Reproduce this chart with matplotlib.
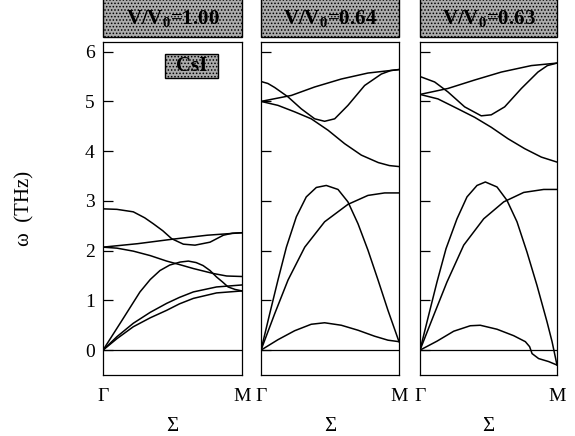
import matplotlib
matplotlib.use("Agg")
import matplotlib.pyplot as plt
from matplotlib.patches import Rectangle

plt.rcParams['font.family'] = 'serif'
plt.rcParams['font.serif'] = ['Liberation Serif', 'DejaVu Serif']
plt.rcParams['mathtext.fontset'] = 'custom'
plt.rcParams['mathtext.rm'] = 'Liberation Serif'
plt.rcParams['mathtext.bf'] = 'Liberation Serif:bold'
plt.rcParams['hatch.linewidth'] = 0.7

# volume ratio in each panel header
headers = [r'V/V$_{\mathbf{0}}$=1.00', r'V/V$_{\mathbf{0}}$=0.64', r'V/V$_{\mathbf{0}}$=0.63']
y_ticks = [0, 1, 2, 3, 4, 5, 6]
x_labels = ['Γ', 'M']

# phonon branches along Sigma, q as fraction of Gamma->M, omega in THz
# V/V0 = 1.00
p1_q_a = [0, 0.1, 0.218, 0.3, 0.362, 0.43, 0.494, 0.578, 0.662, 0.77, 0.866, 0.93, 1.0]
p1_w_a = [2.84, 2.83, 2.78, 2.66, 2.54, 2.40, 2.24, 2.13, 2.11, 2.17, 2.31, 2.35, 2.36]
p1_q_b = [0, 0.25, 0.5, 0.75, 1.0]
p1_w_b = [2.07, 2.14, 2.23, 2.31, 2.36]
p1_q_c = [0, 0.1, 0.218, 0.34, 0.458, 0.55, 0.65, 0.794, 0.89, 1.0]
p1_w_c = [2.07, 2.05, 1.99, 1.90, 1.79, 1.72, 1.64, 1.54, 1.49, 1.48]
p1_q_d = [0, 0.137, 0.266, 0.34, 0.41, 0.48, 0.554, 0.614, 0.67, 0.72, 0.77, 0.817, 0.86, 0.9, 0.95, 1.0]
p1_w_d = [0, 0.60, 1.17, 1.42, 1.60, 1.71, 1.77, 1.79, 1.76, 1.70, 1.60, 1.47, 1.37, 1.27, 1.22, 1.19]
p1_q_e = [0, 0.1, 0.218, 0.34, 0.458, 0.55, 0.65, 0.817, 1.0]
p1_w_e = [0, 0.27, 0.54, 0.76, 0.94, 1.06, 1.17, 1.27, 1.31]
p1_q_f = [0, 0.1, 0.218, 0.34, 0.458, 0.55, 0.65, 0.817, 1.0]
p1_w_f = [0, 0.23, 0.47, 0.65, 0.80, 0.93, 1.04, 1.15, 1.19]

# V/V0 = 0.64
p2_q_a = [0, 0.05, 0.099, 0.196, 0.292, 0.389, 0.461, 0.534, 0.63, 0.751, 0.872, 0.94, 1.0]
p2_w_a = [5.40, 5.36, 5.28, 5.09, 4.85, 4.65, 4.60, 4.65, 4.92, 5.32, 5.55, 5.62, 5.64]
p2_q_b = [0, 0.22, 0.389, 0.582, 0.775, 1.0]
p2_w_b = [5.0, 5.12, 5.29, 5.45, 5.57, 5.64]
p2_q_c = [0, 0.123, 0.244, 0.364, 0.486, 0.606, 0.727, 0.85, 0.93, 1.0]
p2_w_c = [5.0, 4.92, 4.79, 4.65, 4.42, 4.15, 3.92, 3.77, 3.71, 3.69]
p2_q_d = [0, 0.063, 0.123, 0.184, 0.256, 0.328, 0.401, 0.473, 0.558, 0.63, 0.703, 0.775, 0.848, 0.92, 1.0]
p2_w_d = [0, 0.73, 1.41, 2.07, 2.68, 3.08, 3.27, 3.31, 3.23, 2.98, 2.54, 2.01, 1.41, 0.80, 0.17]
p2_q_e = [0, 0.099, 0.196, 0.317, 0.461, 0.63, 0.775, 0.896, 1.0]
p2_w_e = [0, 0.73, 1.41, 2.07, 2.58, 2.93, 3.11, 3.16, 3.16]
p2_q_f = [0, 0.123, 0.244, 0.364, 0.461, 0.582, 0.703, 0.823, 0.92, 1.0]
p2_w_f = [0, 0.21, 0.39, 0.52, 0.55, 0.50, 0.40, 0.28, 0.20, 0.17]

# V/V0 = 0.63
p3_q_a = [0, 0.107, 0.204, 0.326, 0.447, 0.52, 0.618, 0.74, 0.861, 0.93, 1.0]
p3_w_a = [5.50, 5.39, 5.19, 4.89, 4.71, 4.73, 4.89, 5.26, 5.59, 5.72, 5.77]
p3_q_b = [0, 0.204, 0.399, 0.594, 0.813, 1.0]
p3_w_b = [5.14, 5.26, 5.43, 5.59, 5.72, 5.77]
p3_q_c = [0, 0.131, 0.277, 0.399, 0.52, 0.642, 0.764, 0.886, 1.0]
p3_w_c = [5.14, 5.05, 4.85, 4.68, 4.48, 4.25, 4.05, 3.88, 3.78]
p3_q_d = [0, 0.063, 0.124, 0.19, 0.27, 0.343, 0.416, 0.477, 0.562, 0.635, 0.708, 0.781, 0.854, 0.927, 0.964, 1.0]
p3_w_d = [0, 0.70, 1.37, 2.04, 2.64, 3.08, 3.31, 3.38, 3.28, 3.01, 2.58, 1.97, 1.30, 0.57, 0.17, -0.30]
p3_q_e = [0, 0.1, 0.197, 0.319, 0.465, 0.611, 0.757, 0.903, 1.0]
p3_w_e = [0, 0.70, 1.37, 2.11, 2.64, 2.98, 3.17, 3.23, 3.23]
p3_q_f = [0, 0.124, 0.246, 0.367, 0.44, 0.562, 0.684, 0.769, 0.8, 0.818, 0.866, 0.939, 1.0]
p3_w_f = [0, 0.18, 0.38, 0.49, 0.50, 0.42, 0.29, 0.17, 0.07, -0.07, -0.17, -0.23, -0.30]

panels = [
    [(p1_q_a, p1_w_a), (p1_q_b, p1_w_b), (p1_q_c, p1_w_c), (p1_q_d, p1_w_d), (p1_q_e, p1_w_e), (p1_q_f, p1_w_f)],
    [(p2_q_a, p2_w_a), (p2_q_b, p2_w_b), (p2_q_c, p2_w_c), (p2_q_d, p2_w_d), (p2_q_e, p2_w_e), (p2_q_f, p2_w_f)],
    [(p3_q_a, p3_w_a), (p3_q_b, p3_w_b), (p3_q_c, p3_w_c), (p3_q_d, p3_w_d), (p3_q_e, p3_w_e), (p3_q_f, p3_w_f)],
]

W, H = 575, 436
fig = plt.figure(figsize=(W / 100, H / 100), dpi=100)
lefts = [103, 261, 420]
widths = [139, 138, 137]
bottom = (H - 375) / H
height = (375 - 41.7) / H
box_gray = '#ababab'

for i, branches in enumerate(panels):
    ax = fig.add_axes([lefts[i] / W, bottom, widths[i] / W, height])
    for q, w in branches:
        ax.plot(q, w, color='black', lw=1.1, solid_joinstyle='round')
    ax.axhline(0, color='black', lw=0.9)
    ax.set_xlim(0, 1)
    ax.set_ylim(-0.5, 6.2)
    ax.set_xticks([0, 1])
    ax.set_xticklabels(x_labels, fontsize=14)
    ax.tick_params(axis='x', length=0, pad=9)
    ax.set_yticks(y_ticks)
    ax.tick_params(axis='y', direction='in', length=7, width=0.9, pad=6, labelsize=14)
    if i > 0:
        ax.set_yticklabels([])
    ax.set_xlabel('Σ', fontsize=15, labelpad=9)
    for s in ax.spines.values():
        s.set_linewidth(0.9)

    # header box
    fig.patches.append(Rectangle((lefts[i] / W, 1 - 36.7 / H), widths[i] / W, 40 / H,
                                 transform=fig.transFigure, facecolor=box_gray,
                                 edgecolor='black', hatch='.....', lw=1.0, zorder=0))
    fig.text((lefts[i] + widths[i] / 2) / W, 1 - 19 / H, headers[i], ha='center', va='center',
             fontsize=15, fontweight='bold', zorder=2)

    if i == 0:
        ax.add_patch(Rectangle((0.446, 5.48), 0.381, 0.48, facecolor=box_gray, edgecolor='black',
                               hatch='.....', lw=1.0, zorder=3))
        ax.text(0.636, 5.71, 'CsI', ha='center', va='center', fontsize=15, fontweight='bold', zorder=4)

fig.text(25 / W, 1 - 208 / H, 'ω  (THz)', rotation=90, ha='center', va='center', fontsize=15)

fig.savefig('out.png', dpi=100)
